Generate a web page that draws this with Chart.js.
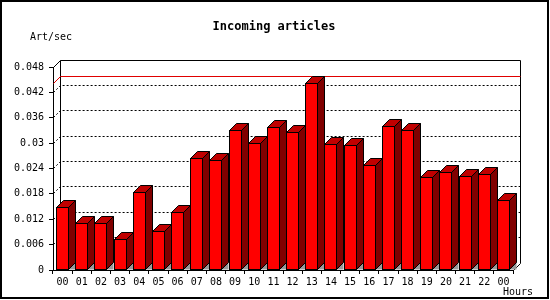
<!DOCTYPE html>
<html>
<head>
<meta charset="utf-8">
<script src="https://cdn.jsdelivr.net/npm/chart.js@4.4.0/dist/chart.umd.min.js"></script>
<style>
body { margin: 0; background: #fff; }
canvas { display: block; }
</style>
</head>
<body>
<canvas id="chart" width="550" height="300"></canvas>
<script>
// data
const hours = ['00','01','02','03','04','05','06','07','08','09','10','11',
               '12','13','14','15','16','17','18','19','20','21','22','00'];
const artPerSec = [0.0148, 0.0110, 0.0110, 0.0073, 0.0184, 0.0091, 0.0137, 0.0264,
                   0.0259, 0.0331, 0.0300, 0.0337, 0.0326, 0.0440, 0.0297, 0.0295,
                   0.0248, 0.0340, 0.0330, 0.0219, 0.0231, 0.0222, 0.0226, 0.0165];
const yMin = 0;
const yMax = 0.048;
const yStep = 0.006;

const depth = 7;
const align = p => Math.round(p - 0.5) + 0.5;

Chart.defaults.font.family = "'DejaVu Sans Mono', monospace";
Chart.defaults.font.size = 10;
Chart.defaults.color = '#000';

// 3d look: back wall, dotted grid, max line, bar sides/tops
const depthPlugin = {
    id: 'depth3d',
    beforeDatasetsDraw(chart) {
        const {ctx, chartArea: a, scales: {y}} = chart;
        const L = align(a.left), R = align(a.right), T = align(a.top), B = align(a.bottom);
        ctx.save();
        ctx.lineWidth = 1;
        ctx.strokeStyle = '#000';

        // dotted grid lines on the back wall
        ctx.setLineDash([2, 2]);
        for (let v = yMin + yStep; v < yMax - 1e-9; v += yStep) {
            const py = align(y.getPixelForValue(v));
            ctx.beginPath();
            ctx.moveTo(L, py);
            ctx.lineTo(L + depth, py - depth);
            ctx.lineTo(R + depth, py - depth);
            ctx.stroke();
        }
        ctx.setLineDash([]);

        // back wall outline
        ctx.beginPath();
        ctx.moveTo(L, T);
        ctx.lineTo(L + depth, T - depth);
        ctx.lineTo(R + depth, T - depth);
        ctx.lineTo(R + depth, B - depth);
        ctx.lineTo(R, B);
        ctx.moveTo(L + depth, T - depth);
        ctx.lineTo(L + depth, B - depth);
        ctx.stroke();

        // max value line
        const maxY = align(y.getPixelForValue(Math.max(...artPerSec)));
        ctx.strokeStyle = '#e00000';
        ctx.beginPath();
        ctx.moveTo(L, maxY);
        ctx.lineTo(L + depth, maxY - depth);
        ctx.lineTo(R + depth, maxY - depth);
        ctx.stroke();
        ctx.restore();
    },
    afterDatasetsDraw(chart) {
        const ctx = chart.ctx;
        const meta = chart.getDatasetMeta(0);
        ctx.save();
        ctx.lineWidth = 1;
        ctx.strokeStyle = '#000';
        meta.data.forEach(bar => {
            const p = bar.getProps(['x', 'y', 'base', 'width'], true);
            const L = align(p.x - p.width / 2), R = align(p.x + p.width / 2);
            const T = align(p.y), B = align(p.base);

            // floor shadow
            ctx.fillStyle = '#999';
            ctx.beginPath();
            ctx.moveTo(R, B);
            ctx.lineTo(R + depth, B - depth);
            ctx.lineTo(R + depth, B);
            ctx.closePath();
            ctx.fill();

            // side
            ctx.fillStyle = '#800000';
            ctx.beginPath();
            ctx.moveTo(R, T);
            ctx.lineTo(R + depth, T - depth);
            ctx.lineTo(R + depth, B - depth);
            ctx.lineTo(R, B);
            ctx.closePath();
            ctx.fill();
            ctx.stroke();

            // top
            ctx.fillStyle = '#c00000';
            ctx.beginPath();
            ctx.moveTo(L, T);
            ctx.lineTo(L + depth, T - depth);
            ctx.lineTo(R + depth, T - depth);
            ctx.lineTo(R, T);
            ctx.closePath();
            ctx.fill();
            ctx.stroke();

            // front outline
            ctx.strokeRect(L, T, R - L, B - T);
        });
        ctx.restore();
    },
    afterDraw(chart) {
        const ctx = chart.ctx;
        ctx.save();
        ctx.fillStyle = '#000';
        ctx.textBaseline = 'middle';
        ctx.textAlign = 'center';
        ctx.font = "bold 12px 'DejaVu Sans Mono', monospace";
        ctx.fillText('Incoming articles', 274, 27);

        ctx.font = "10px 'DejaVu Sans Mono', monospace";
        ctx.textAlign = 'left';
        ctx.fillText('Art/sec', 30, 37);
        ctx.textAlign = 'right';
        ctx.fillText('Hours', 533, 292);

        // outer frame
        ctx.lineWidth = 2;
        ctx.strokeStyle = '#000';
        ctx.strokeRect(1, 1, 547, 297);
        ctx.restore();
    }
};

const bar = new Chart(document.getElementById('chart'), {
    type: 'bar',
    data: {
        labels: hours,
        datasets: [{
            label: 'Art/sec',
            data: artPerSec,
            backgroundColor: '#ff0000',
            borderWidth: 0,
            barPercentage: 0.62,
            categoryPercentage: 1
        }]
    },
    options: {
        responsive: false,
        animation: false,
        devicePixelRatio: 1,
        layout: { padding: { left: 0, right: 37, top: 67, bottom: 0 } },
        plugins: {
            legend: { display: false },
            tooltip: { enabled: false },
            title: { display: false }
        },
        scales: {
            x: {
                grid: { drawOnChartArea: false, drawTicks: true, tickLength: 4, color: '#000', offset: true },
                border: { color: '#000' },
                ticks: { autoSkip: false, maxRotation: 0, padding: 2 },
                afterFit: s => { s.height = 30; }
            },
            y: {
                min: yMin,
                max: yMax,
                grid: { drawOnChartArea: false, drawTicks: true, tickLength: 4, color: '#000' },
                border: { color: '#000' },
                ticks: {
                    stepSize: yStep,
                    padding: 5,
                    callback: v => String(Number(v.toFixed(3)))
                },
                afterFit: s => { s.width = 53; }
            }
        }
    },
    plugins: [depthPlugin]
});
</script>
</body>
</html>
